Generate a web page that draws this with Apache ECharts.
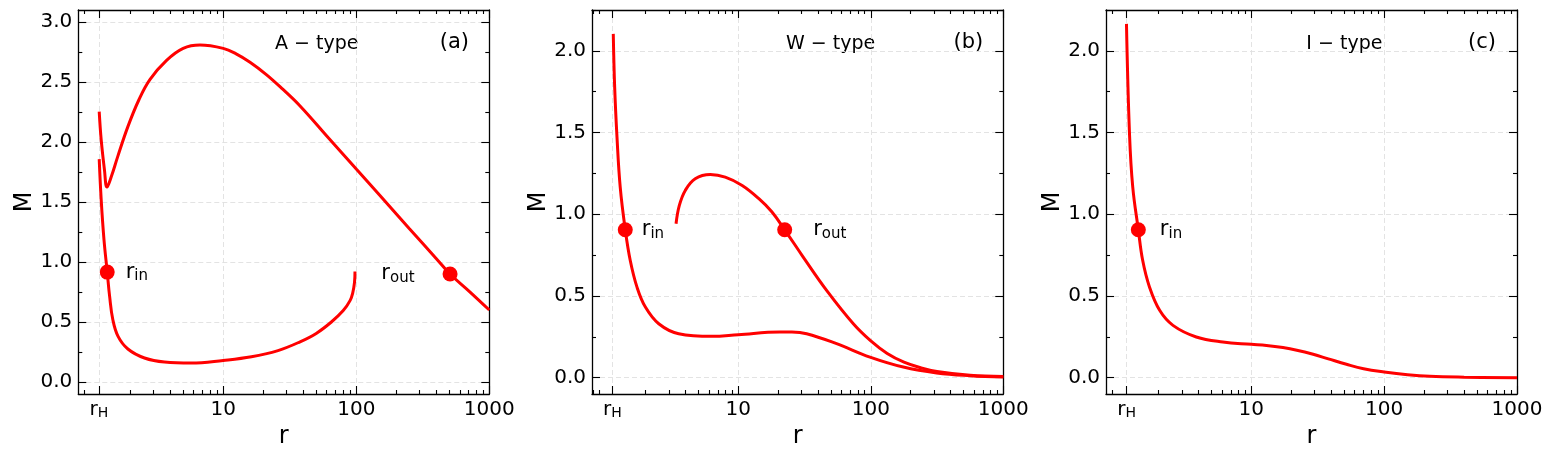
<!DOCTYPE html>
<html><head><meta charset="utf-8">
<script src="https://cdn.jsdelivr.net/npm/echarts@6/dist/echarts.min.js"></script>
<style>html,body{margin:0;padding:0;background:#fff}#c{width:1554px;height:458px}</style>
</head><body><div id="c"></div>
<script>
// ---------------- data ----------------
const panelNames = ['A \u2212 type', 'W \u2212 type', 'I \u2212 type'];
const panelTags = ['(a)', '(b)', '(c)'];
const rH = [1.163, 1.12, 1.15];
const xMin = [0.814, 0.787, 0.805];
const xMax = 1000;
const yMin = -0.1;
const yMax = [3.1, 2.25, 2.25];
const xTickText = ['rH', '10', '100', '1000'];
const xTickFixed = [10, 100, 1000];
const yTickMajor = [0, 0.5, 1.0, 1.5, 2.0, 2.5, 3.0];
const yTickMinor = [0.25, 0.75, 1.25, 1.75, 2.25, 2.75];

// panel (a) A-type
const aUpperR = [1.169, 1.21, 1.28, 1.337, 1.44, 1.61, 1.92, 2.32, 2.81, 3.75, 5.0, 6.69, 10, 12.5, 15.9, 21.2, 28, 37.8, 60, 100, 145, 250, 400, 507, 700, 1000];
const aUpperM = [2.253, 2.017, 1.768, 1.624, 1.71, 1.878, 2.128, 2.35, 2.52, 2.68, 2.78, 2.808, 2.78, 2.735, 2.665, 2.56, 2.44, 2.30, 2.05, 1.774, 1.575, 1.28, 1.028, 0.9, 0.76, 0.6];
const aLowerR = [1.169, 1.21, 1.27, 1.343, 1.40, 1.48, 1.62, 1.92, 2.56, 3.62, 5.74, 10, 16.3, 25.8, 37.8, 50, 65, 79.8, 90, 94, 97, 97.8];
const aLowerM = [1.857, 1.518, 1.185, 0.916, 0.713, 0.519, 0.38, 0.275, 0.2, 0.166, 0.158, 0.18, 0.21, 0.262, 0.335, 0.405, 0.50, 0.595, 0.68, 0.741, 0.83, 0.921];
const aPointR = [1.343, 507];
const aPointM = [0.916, 0.90];
const aPointSub = ['in', 'out'];

// panel (b) W-type
const bLowerR = [1.139, 1.167, 1.215, 1.285, 1.403, 1.53, 1.72, 1.99, 2.51, 3.55, 6.32, 10, 20.6, 25.4, 32.8, 55.2, 98.6, 176, 314, 560, 1000];
const bLowerM = [2.104, 1.777, 1.472, 1.166, 0.905, 0.717, 0.554, 0.432, 0.33, 0.269, 0.253, 0.263, 0.279, 0.279, 0.269, 0.208, 0.126, 0.065, 0.029, 0.012, 0.004];
const bUpperR = [3.39, 3.59, 3.98, 4.73, 6.15, 7.97, 10.7, 14.3, 17.9, 22.4, 30.9, 46.4, 73.8, 100, 133, 178, 240, 316, 562, 1000];
const bUpperM = [0.942, 1.054, 1.146, 1.217, 1.243, 1.227, 1.176, 1.095, 1.015, 0.905, 0.738, 0.534, 0.33, 0.225, 0.148, 0.095, 0.06, 0.038, 0.0145, 0.007];
const bPointR = [1.403, 22.4];
const bPointM = [0.905, 0.905];
const bPointSub = ['in', 'out'];

// panel (c) I-type
const cR = [1.148, 1.21, 1.28, 1.41, 1.52, 1.71, 2.04, 2.57, 3.85, 6.1, 10, 13, 17.3, 22, 29.2, 38, 52, 70, 100, 150, 221, 400, 1000];
const cM = [2.165, 1.49, 1.166, 0.905, 0.718, 0.555, 0.412, 0.32, 0.249, 0.218, 0.204, 0.197, 0.184, 0.168, 0.143, 0.115, 0.082, 0.055, 0.035, 0.018, 0.008, 0.003, 0.0];
const cPointR = [1.41];
const cPointM = [0.905];
const cPointSub = ['in'];

// ---------------- layout / style ----------------
const F = 'DejaVu Sans';
const RED = '#ff0000';
const grids = [
  {left: 78.3, top: 10, width: 411, height: 384},
  {left: 592, top: 10, width: 411.3, height: 384},
  {left: 1106, top: 10, width: 411, height: 384}
];
const pointLabelPlace = [
  [{position: 'right', distance: 11}, {position: 'left', distance: 28}],
  [{position: 'right', distance: 9}, {position: 'right', distance: 21}],
  [{position: 'right', distance: 14}]
];
const nameFrac = 0.58, tagFrac = 0.915;

const L10 = Math.log10;
const zip = (xs, ys) => xs.map((x, i) => [x, ys[i]]);
const curves = [
  [zip(aUpperR, aUpperM), zip(aLowerR, aLowerM)],
  [zip(bLowerR, bLowerM), zip(bUpperR, bUpperM)],
  [zip(cR, cM)]
];
const points = [
  {r: aPointR, m: aPointM, s: aPointSub},
  {r: bPointR, m: bPointM, s: bPointSub},
  {r: cPointR, m: cPointM, s: cPointSub}
];

const frameLine = {show: true, onZero: false, lineStyle: {color: '#000', width: 1.3}};
const tickStyle = {color: '#000', width: 1.1};
const gridLine = {show: true, lineStyle: {color: '#e0e0e0', width: 0.9, type: [5, 3]}};
const subRich = {
  m: {fontSize: 20, fontFamily: F, color: '#000', lineHeight: 20},
  s: {fontSize: 14, fontFamily: F, color: '#000', lineHeight: 14, verticalAlign: 'bottom'}
};
const ptRich = {
  m: {fontSize: 21, fontFamily: F, color: '#000', lineHeight: 24},
  s: {fontSize: 15, fontFamily: F, color: '#000', lineHeight: 14, verticalAlign: 'bottom'}
};

const xAxes = [], yAxes = [], series = [], graphics = [];
for (let p = 0; p < 3; p++) {
  const xTickVals = [rH[p]].concat(xTickFixed);
  const major = xTickVals.map(L10);
  const minor = [];
  for (let e = -1; e <= 2; e++) for (let k = 2; k <= 9; k++) {
    const v = k * Math.pow(10, e);
    if (v >= xMin[p] && v <= xMax) minor.push(L10(v));
  }
  const fmtX = (v) => {
    const i = major.findIndex(t => Math.abs(t - v) < 1e-6);
    if (i < 0) return '';
    const t = xTickText[i];
    return t === 'rH' ? '{m|r}{s|H}' : t;
  };
  // data axis (log scale) - hidden; frame/ticks drawn by value axes in log10 space
  xAxes.push({type: 'log', logBase: 10, gridIndex: p, min: xMin[p], max: xMax, show: false});
  const xc = {type: 'value', gridIndex: p, min: L10(xMin[p]), max: L10(xMax)};
  xAxes.push(Object.assign({}, xc, {
    position: 'bottom', axisLine: frameLine,
    axisTick: {show: true, inside: true, length: 8, customValues: major, lineStyle: tickStyle},
    axisLabel: {show: true, customValues: major, margin: 6, color: '#000', fontFamily: F, fontSize: 20, formatter: fmtX, rich: subRich},
    splitLine: gridLine,
    name: 'r', nameLocation: 'middle', nameGap: 30,
    nameTextStyle: {fontFamily: F, fontSize: 24, color: '#000'}
  }));
  xAxes.push(Object.assign({}, xc, {
    position: 'bottom', axisLine: {show: false, onZero: false},
    axisTick: {show: true, inside: true, length: 4, customValues: minor, lineStyle: tickStyle},
    axisLabel: {show: false}, splitLine: {show: false}
  }));
  xAxes.push(Object.assign({}, xc, {
    position: 'top', axisLine: frameLine,
    axisTick: {show: true, inside: true, length: 8, customValues: major, lineStyle: tickStyle},
    axisLabel: {show: false}, splitLine: {show: false}
  }));
  xAxes.push(Object.assign({}, xc, {
    position: 'top', axisLine: {show: false, onZero: false},
    axisTick: {show: true, inside: true, length: 4, customValues: minor, lineStyle: tickStyle},
    axisLabel: {show: false}, splitLine: {show: false}
  }));

  const yMaj = yTickMajor.filter(v => v <= yMax[p]);
  const yMin2 = yTickMinor.filter(v => v <= yMax[p]);
  const yc = {type: 'value', gridIndex: p, min: yMin, max: yMax[p]};
  yAxes.push(Object.assign({}, yc, {
    position: 'left', axisLine: frameLine,
    axisTick: {show: true, inside: true, length: 8, customValues: yMaj, lineStyle: tickStyle},
    axisLabel: {show: true, customValues: yMaj, margin: 6, color: '#000', fontFamily: F, fontSize: 20, formatter: v => v.toFixed(1)},
    splitLine: gridLine,
    name: 'M', nameLocation: 'middle', nameGap: 41,
    nameTextStyle: {fontFamily: F, fontSize: 24, color: '#000'}
  }));
  yAxes.push(Object.assign({}, yc, {
    position: 'left', axisLine: {show: false, onZero: false},
    axisTick: {show: true, inside: true, length: 4, customValues: yMin2, lineStyle: tickStyle},
    axisLabel: {show: false}, splitLine: {show: false}
  }));
  yAxes.push(Object.assign({}, yc, {
    position: 'right', axisLine: frameLine,
    axisTick: {show: true, inside: true, length: 8, customValues: yMaj, lineStyle: tickStyle},
    axisLabel: {show: false}, splitLine: {show: false}
  }));
  yAxes.push(Object.assign({}, yc, {
    position: 'right', axisLine: {show: false, onZero: false},
    axisTick: {show: true, inside: true, length: 4, customValues: yMin2, lineStyle: tickStyle},
    axisLabel: {show: false}, splitLine: {show: false}
  }));

  curves[p].forEach((d) => {
    series.push({
      type: 'line', xAxisIndex: p * 5, yAxisIndex: p * 4, data: d,
      showSymbol: false, smooth: 0.4,
      lineStyle: {color: RED, width: 3}, z: 3
    });
  });
  const P = points[p];
  series.push({
    type: 'scatter', xAxisIndex: p * 5, yAxisIndex: p * 4,
    symbol: 'circle', symbolSize: 15, itemStyle: {color: RED, opacity: 1}, z: 4,
    data: P.r.map((r, i) => ({
      value: [r, P.m[i]],
      label: Object.assign({show: true, color: '#000', formatter: '{m|r}{s|' + P.s[i] + '}', rich: ptRich}, pointLabelPlace[p][i])
    }))
  });

  const g = grids[p];
  graphics.push({type: 'text', x: g.left + nameFrac * g.width, y: 44, style: {text: panelNames[p], fill: '#000', font: '19px "DejaVu Sans"', align: 'center', verticalAlign: 'middle'}});
  graphics.push({type: 'text', x: g.left + tagFrac * g.width, y: 42.5, style: {text: panelTags[p], fill: '#000', font: '21px "DejaVu Sans"', align: 'center', verticalAlign: 'middle'}});
}

const chart = echarts.init(document.getElementById('c'), null, {renderer: 'canvas'});
chart.setOption({
  animation: false,
  backgroundColor: '#fff',
  grid: grids,
  xAxis: xAxes,
  yAxis: yAxes,
  series: series,
  graphic: graphics
});
</script></body></html>
